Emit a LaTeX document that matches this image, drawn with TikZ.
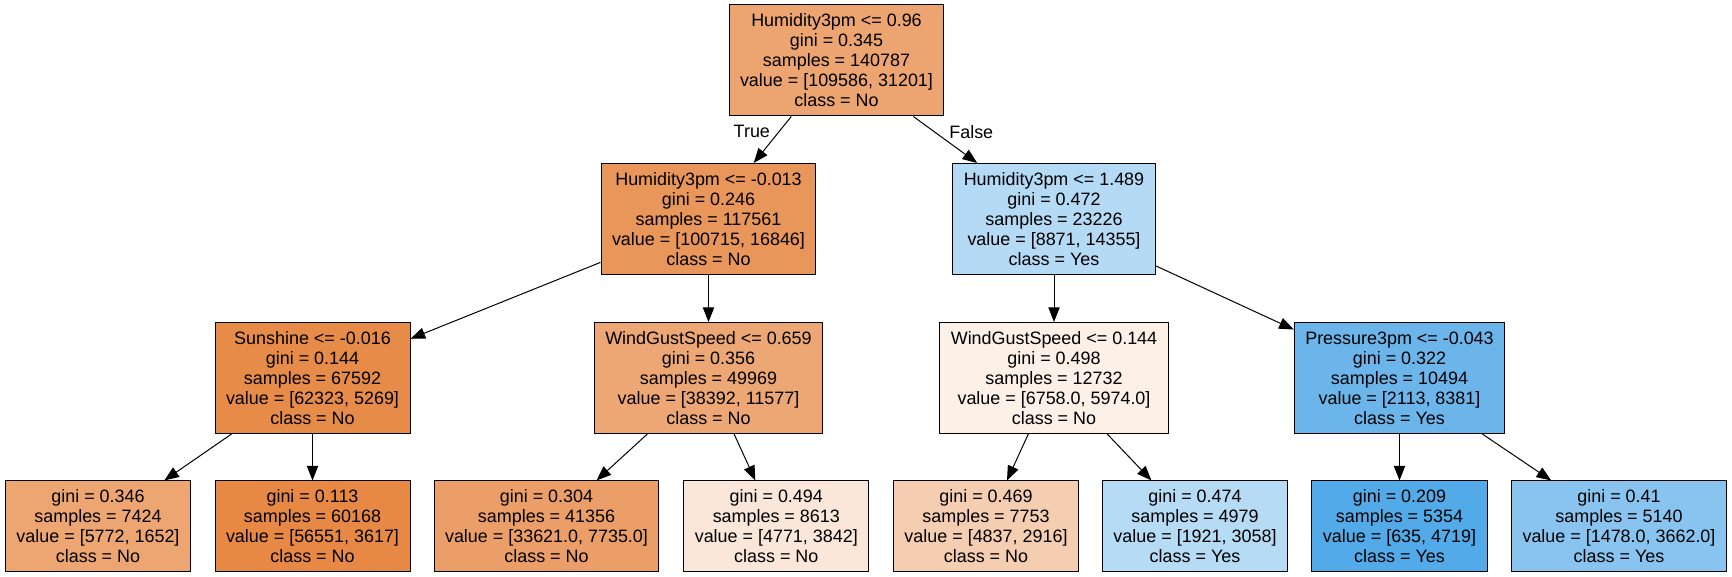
\documentclass[tikz,border=0pt]{standalone}
\usepackage{fontspec}
\setmainfont{Liberation Sans}
\usetikzlibrary{arrows.meta}
\definecolor{cNo}{RGB}{229,129,57}
\definecolor{cYes}{RGB}{57,157,229}
\tikzset{
	split/.style={draw=black,line width=.75pt,align=center,inner xsep=8.25pt,inner ysep=0pt,minimum height=83.25pt},
	leaf/.style={split,minimum height=68pt},
	clsNo/.style={fill=cNo!#1!white},
	clsYes/.style={fill=cYes!#1!white}
}
\begin{document}
\begin{tikzpicture}[>={Triangle[length=11pt,width=8.5pt]},line join=round,x=.75pt,y=-.75pt,font=\fontsize{13.45}{15}\selectfont]
	\useasboundingbox (0,0) rectangle (1732,577);
	%Nút gốc và các nút tách
	\node[split,clsNo=72] (root) at (836.5,60.5) {Humidity3pm <= 0.96\\gini = 0.345\\samples = 140787\\value = [109586, 31201]\\class = No};
	\node[split,clsNo=83] (a) at (708.5,219) {Humidity3pm <= -0.013\\gini = 0.246\\samples = 117561\\value = [100715, 16846]\\class = No};
	\node[split,clsYes=38] (b) at (1054,219) {Humidity3pm <= 1.489\\gini = 0.472\\samples = 23226\\value = [8871, 14355]\\class = Yes};
	\node[split,clsNo=92] (aa) at (312.5,378) {Sunshine <= -0.016\\gini = 0.144\\samples = 67592\\value = [62323, 5269]\\class = No};
	\node[split,clsNo=70] (ab) at (708.5,378) {WindGustSpeed <= 0.659\\gini = 0.356\\samples = 49969\\value = [38392, 11577]\\class = No};
	\node[split,clsNo=12] (ba) at (1054,378) {WindGustSpeed <= 0.144\\gini = 0.498\\samples = 12732\\value = [6758.0, 5974.0]\\class = No};
	\node[split,clsYes=75] (bb) at (1399.5,378) {Pressure3pm <= -0.043\\gini = 0.322\\samples = 10494\\value = [2113, 8381]\\class = Yes};
	%Các lá
	\node[leaf,clsNo=71] (aaa) at (98,526.3) {gini = 0.346\\samples = 7424\\value = [5772, 1652]\\class = No};
	\node[leaf,clsNo=94] (aab) at (312.5,526.3) {gini = 0.113\\samples = 60168\\value = [56551, 3617]\\class = No};
	\node[leaf,clsNo=77] (aba) at (546.5,526.3) {gini = 0.304\\samples = 41356\\value = [33621.0, 7735.0]\\class = No};
	\node[leaf,clsNo=19] (abb) at (776.3,526.3) {gini = 0.494\\samples = 8613\\value = [4771, 3842]\\class = No};
	\node[leaf,clsNo=40] (baa) at (986,526.3) {gini = 0.469\\samples = 7753\\value = [4837, 2916]\\class = No};
	\node[leaf,clsYes=37] (bab) at (1195,526.3) {gini = 0.474\\samples = 4979\\value = [1921, 3058]\\class = Yes};
	\node[leaf,clsYes=87] (bba) at (1399.5,526.3) {gini = 0.209\\samples = 5354\\value = [635, 4719]\\class = Yes};
	\node[leaf,clsYes=60] (bbb) at (1619,526.3) {gini = 0.41\\samples = 5140\\value = [1478.0, 3662.0]\\class = Yes};
	%Các cạnh
	\draw[->,line width=.75pt] (root) -- node[pos=.33,left=3pt]{True} (a);
	\draw[->,line width=.75pt] (root) -- node[pos=.33,right=7.5pt]{False} (b);
	\foreach \u/\v in {a/aa,a/ab,b/ba,b/bb,aa/aaa,aa/aab,ab/aba,ab/abb,ba/baa,ba/bab,bb/bba,bb/bbb}{
		\draw[->,line width=.75pt] (\u) -- (\v);}
\end{tikzpicture}
\end{document}
